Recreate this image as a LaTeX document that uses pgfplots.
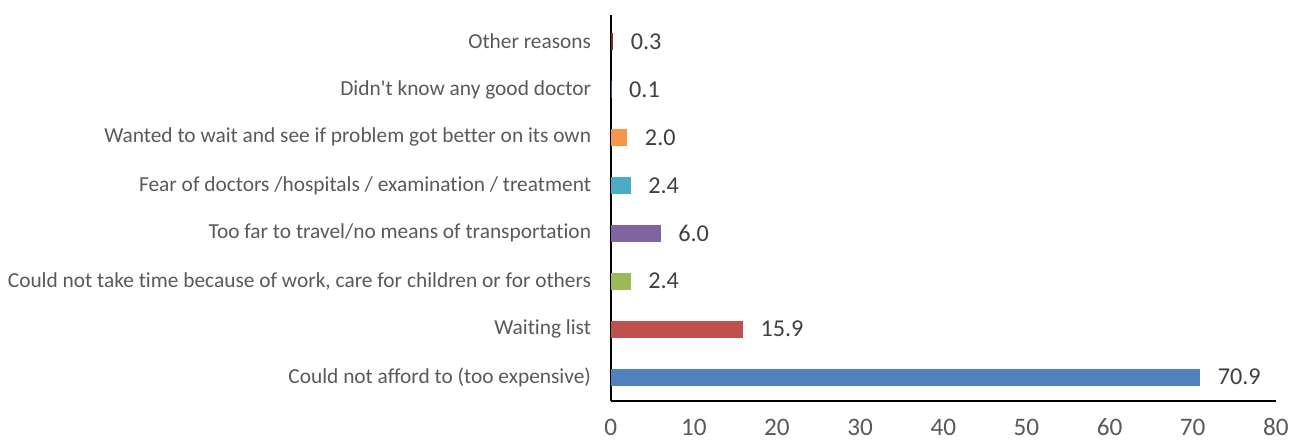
\documentclass[border=0pt]{standalone}
\usepackage{pgfplots}
\pgfplotsset{compat=1.18}
\usepackage{fontspec}
\setmainfont{Carlito}[Ligatures={TeXOff,CommonOff}]
\definecolor{c1}{HTML}{4F81BD}
\definecolor{c2}{HTML}{C0504D}
\definecolor{c3}{HTML}{9BBB59}
\definecolor{c4}{HTML}{8064A2}
\definecolor{c5}{HTML}{4BACC6}
\definecolor{c6}{HTML}{F79646}
\definecolor{c7}{HTML}{2C4D75}
\definecolor{c8}{HTML}{772C2A}
\definecolor{txt}{HTML}{595959}
\definecolor{lbl}{HTML}{404040}
\begin{document}
\begin{tikzpicture}
\begin{axis}[
  name=ax,
  scale only axis,
  width=660bp, height=383bp,
  xmin=0, xmax=80,
  ymin=-0.5, ymax=7.55,
  xbar, bar width=17bp, bar shift=0pt,
  axis x line*=bottom, axis y line*=left,
  axis line style={black, line width=1.6bp},
  xtick={0,10,...,80},
  ytick={0,1,...,7},
  yticklabels={Could not afford to (too expensive),Waiting list,{Could not take time because of work, care for children or for others},Too far to travel/no means of transportation,Fear of doctors /hospitals / examination / treatment,Wanted to wait and see if problem got better on its own,Didn't know any good doctor,Other reasons},
  major tick length=0pt,
  /pgf/number format/assume math mode=true,
  xticklabel style={font=\fontsize{25bp}{30bp}\selectfont, text=txt, yshift=-14bp},
  yticklabel style={font=\fontsize{21.2bp}{24bp}\selectfont, text=txt, xshift=-16bp},
  nodes near coords,
  nodes near coords style={font=\fontsize{24bp}{28bp}\selectfont, text=lbl, anchor=west, xshift=14bp, /pgf/number format/.cd, fixed, precision=1, zerofill, assume math mode=true},
  clip=false,
]
\addplot[fill=c1, draw=none] coordinates {(70.9,0)};
\addplot[fill=c2, draw=none] coordinates {(15.9,1)};
\addplot[fill=c3, draw=none] coordinates {(2.4,2)};
\addplot[fill=c4, draw=none] coordinates {(6.0,3)};
\addplot[fill=c5, draw=none] coordinates {(2.4,4)};
\addplot[fill=c6, draw=none] coordinates {(2.0,5)};
\addplot[fill=c7, draw=none] coordinates {(0.1,6)};
\addplot[fill=c8, draw=none] coordinates {(0.3,7)};
\end{axis}
\path ([xshift=-606bp,yshift=-42bp]ax.south west) rectangle ([xshift=20bp,yshift=15bp]ax.north east);
\end{tikzpicture}
\end{document}
